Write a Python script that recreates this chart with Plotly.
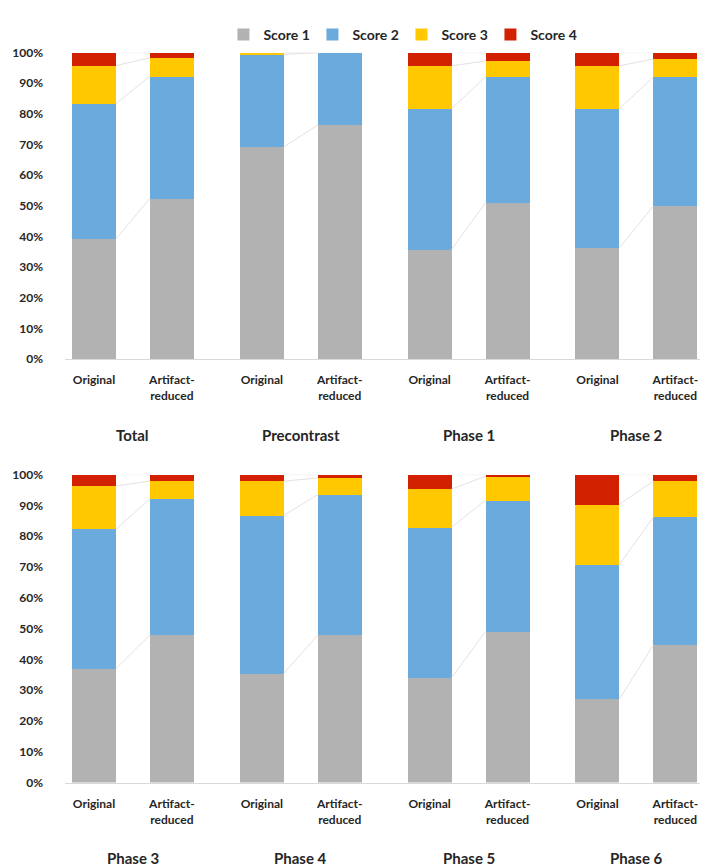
import plotly.graph_objects as go
from plotly.subplots import make_subplots

# ---------------- data ----------------
groups_top = ["Total", "Precontrast", "Phase 1", "Phase 2"]
groups_bottom = ["Phase 3", "Phase 4", "Phase 5", "Phase 6"]
conditions = ["Original", "Artifact-<br>reduced"]
series_names = ["Score 1", "Score 2", "Score 3", "Score 4"]

# order: for each group -> Original, Artifact-reduced
score1 = [39.2, 52.4, 69.2, 76.4, 35.8, 51.0, 36.3, 49.9,
          37.0, 47.9, 35.4, 47.9, 34.1, 49.0, 27.1, 44.7]
score2 = [44.2, 39.9, 30.2, 23.6, 45.9, 41.1, 45.4, 42.2,
          45.3, 44.2, 51.4, 45.6, 48.8, 42.7, 43.7, 41.5]
score3 = [12.4, 6.0, 0.6, 0.0, 14.0, 5.2, 14.0, 5.8,
          14.0, 5.8, 11.1, 5.4, 12.4, 7.8, 19.6, 11.7]
score4 = [4.2, 1.7, 0.0, 0.0, 4.3, 2.7, 4.3, 2.1,
          3.7, 2.1, 2.1, 1.1, 4.7, 0.5, 9.6, 2.1]
y_ticks = [0, 10, 20, 30, 40, 50, 60, 70, 80, 90, 100]
y_tick_labels = [f"{v}%" for v in y_ticks]

# ---------------- style ----------------
colors = ["#B2B2B2", "#6BAADC", "#FFC800", "#D22100"]
FONT = "Lato, 'Open Sans', sans-serif"
TXT = "#262626"
GAP = 2.154      # distance between groups in bar units
BW = 0.564       # bar width
H = 867

all_scores = [score1, score2, score3, score4]

fig = make_subplots(rows=2, cols=1)

panels = [(groups_top, 0), (groups_bottom, 8)]
for row, (groups, off) in enumerate(panels, start=1):
    xs = [g * GAP + k for g in range(len(groups)) for k in range(2)]
    n = len(xs)
    # series lines
    cum = [0.0] * n
    for s, vals in enumerate(all_scores):
        part = vals[off:off + n]
        cum = [c + v for c, v in zip(cum, part)]
        for g in range(len(groups)):
            i0, i1 = 2 * g, 2 * g + 1
            fig.add_trace(go.Scatter(
                x=[xs[i0] + BW / 2, xs[i1] - BW / 2],
                y=[cum[i0], cum[i1]],
                mode="lines", line=dict(color="#E8E0E1", width=1),
                showlegend=False, hoverinfo="skip"), row=row, col=1)
    for s, vals in enumerate(all_scores):
        fig.add_trace(go.Bar(
            x=xs, y=vals[off:off + n], width=BW,
            name=series_names[s], marker=dict(color=colors[s], line=dict(width=0)),
            showlegend=(row == 1), legendgroup=series_names[s]), row=row, col=1)
    ax = "xaxis" if row == 1 else "xaxis2"
    fig.layout[ax].update(
        tickvals=xs, ticktext=conditions * len(groups),
        range=[-0.372, (len(groups) - 1) * GAP + 1 + 0.47],
        showline=True, linecolor="#D9D9D9", linewidth=1,
        showgrid=False, zeroline=False, ticks="",
        ticklabelstandoff=10,
        tickfont=dict(family=FONT, size=12, color=TXT, weight="bold"))
    for g, name in enumerate(groups):
        fig.add_annotation(
            x=g * GAP + 0.5, xref="x" if row == 1 else "x2",
            y=1 - (426 if row == 1 else 857) / H, yref="paper",
            text=name, showarrow=False, yanchor="middle",
            font=dict(family=FONT, size=15, color=TXT, weight="bold"))

for ay, dom in (("yaxis", [1 - 349 / H, 1 - 37.3 / H]), ("yaxis2", [1 - 780 / H, 1 - 466.7 / H])):
    fig.layout[ay].update(
        domain=dom, range=[0, 100], tickvals=y_ticks, ticktext=y_tick_labels,
        tickmode="array",
        showgrid=False, zeroline=False, showline=False,
        ticklabelstandoff=21,
        tickfont=dict(family=FONT, size=12, color=TXT, weight="bold"))

fig.update_layout(
    width=708, height=H, barmode="stack",
    margin=dict(l=57, r=4, t=0, b=0),
    plot_bgcolor="white", paper_bgcolor="white",
    bargap=0,
    legend=dict(orientation="h", x=0.52, xanchor="center", y=1 - 3 / H, yanchor="top",
                font=dict(family=FONT, size=14, color=TXT, weight="bold"),
                itemwidth=30, entrywidth=44, entrywidthmode="pixels",
                traceorder="normal"),
)

fig.write_html("out.html")
